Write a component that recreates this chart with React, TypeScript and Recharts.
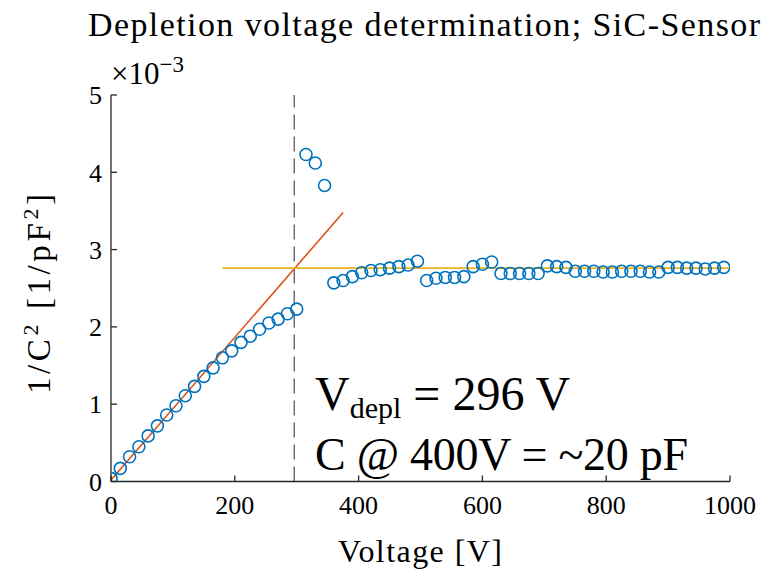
import React from 'react';
import {
  ComposedChart,
  Scatter,
  XAxis,
  YAxis,
  ReferenceLine,
  Customized,
} from 'recharts';

// Bias voltage steps [V]
const voltage = [
  0, 15, 30, 45, 60, 75, 90, 105, 120, 135, 150, 165, 180, 195, 210, 225, 240,
  255, 270, 285, 300, 315, 330, 345, 360, 375, 390, 405, 420, 435, 450, 465,
  480, 495, 510, 525, 540, 555, 570, 585, 600, 615, 630, 645, 660, 675, 690,
  705, 720, 735, 750, 765, 780, 795, 810, 825, 840, 855, 870, 885, 900, 915,
  930, 945, 960, 975, 990,
];

// Measured 1/C^2 in units of 1e-3 pF^-2
const invC2 = [
  0.04, 0.17, 0.32, 0.45, 0.59, 0.72, 0.86, 0.98, 1.11, 1.23, 1.36, 1.47, 1.6,
  1.69, 1.8, 1.88, 1.97, 2.05, 2.1, 2.17, 2.23, 4.23, 4.12, 3.83, 2.57, 2.6,
  2.65, 2.7, 2.73, 2.74, 2.76, 2.78, 2.8, 2.85, 2.6, 2.63, 2.64, 2.64, 2.65,
  2.78, 2.81, 2.84, 2.69, 2.69, 2.69, 2.69, 2.69, 2.79, 2.78, 2.77, 2.72, 2.72,
  2.72, 2.71, 2.71, 2.72, 2.72, 2.72, 2.71, 2.71, 2.77, 2.77, 2.76, 2.76, 2.75,
  2.76, 2.77,
];

const xTicks = [0, 200, 400, 600, 800, 1000];
const yTicks = [0, 1, 2, 3, 4, 5];

// Fitted depletion voltage [V] and capacitance at 400 V [pF]
const depletionVoltage = 296;
const capacitanceAt400 = 20;

// Linear rise fit and plateau fit (end points)
const riseFit = [
  { x: 0, y: 0.02 },
  { x: 375, y: 3.48 },
];
const plateauFit = [
  { x: 180, y: 2.76 },
  { x: 1000, y: 2.76 },
];

const points = voltage.map((v, i) => ({ v, c: invC2[i] }));

const SERIF =
  "'Liberation Serif', 'Times New Roman', Times, 'DejaVu Serif', 'Noto Serif', serif";
const AXIS = '#262626';

const Ring = (props: any) => {
  const { cx, cy } = props;
  if (cx == null || cy == null) return null;
  return (
    <circle cx={cx} cy={cy} r={6} fill="none" stroke="#0072BD" strokeWidth={1.6} />
  );
};

const serifStyle = { fontFamily: SERIF };

const Texts = () => (
  <g fill="#000">
    <text
      x={88}
      y={36}
      fontSize={34}
      textLength={672}
      lengthAdjust="spacing"
      style={serifStyle}
    >
      Depletion voltage determination; SiC-Sensor
    </text>
    <text x={111} y={84} fontSize={31} style={serifStyle}>
      ×10
      <tspan dy={-12} fontSize={23}>
        −3
      </tspan>
    </text>
    <text
      x={338}
      y={562}
      fontSize={32}
      textLength={164}
      lengthAdjust="spacing"
      style={serifStyle}
    >
      Voltage [V]
    </text>
    <text
      x={0}
      y={0}
      fontSize={33}
      textLength={200}
      lengthAdjust="spacing"
      transform="translate(50 394) rotate(-90)"
      style={serifStyle}
    >
      1/C
      <tspan dy={-12} fontSize={22}>
        2
      </tspan>
      <tspan dy={12}> [1/pF</tspan>
      <tspan dy={-12} fontSize={22}>
        2
      </tspan>
      <tspan dy={12}>]</tspan>
    </text>
    <text x={315} y={410} fontSize={48} style={serifStyle}>
      V
      <tspan dy={8} fontSize={30}>
        depl
      </tspan>
      <tspan dy={-8}> = {depletionVoltage} V</tspan>
    </text>
    <text
      x={315}
      y={470}
      fontSize={46}
      textLength={373}
      lengthAdjust="spacing"
      style={serifStyle}
    >
      C @ 400V = ~{capacitanceAt400} pF
    </text>
  </g>
);

const tickStyle = { fill: '#000', fontSize: 26, style: serifStyle };

export default function App() {
  return (
    <div style={{ position: 'absolute', left: 0, top: 0, background: '#fff' }}>
      <ComposedChart
        width={779}
        height={579}
        data={points}
        margin={{ top: 95, right: 49, bottom: 67.5, left: 51 }}
        style={serifStyle}
      >
        <XAxis
          xAxisId="bottom"
          dataKey="v"
          type="number"
          domain={[0, 1000]}
          ticks={xTicks}
          height={30}
          tickSize={-6}
          tickMargin={20}
          axisLine={{ stroke: AXIS, strokeWidth: 1.3 }}
          tickLine={{ stroke: AXIS, strokeWidth: 1.3 }}
          tick={tickStyle}
          allowDataOverflow
        />
        <XAxis
          xAxisId="top"
          orientation="top"
          dataKey="v"
          type="number"
          domain={[0, 1000]}
          ticks={xTicks}
          height={0}
          tickSize={-6}
          axisLine={{ stroke: AXIS, strokeWidth: 1.3 }}
          tickLine={{ stroke: AXIS, strokeWidth: 1.3 }}
          tick={() => <g />}
        />
        <YAxis
          yAxisId="left"
          type="number"
          domain={[0, 5]}
          ticks={yTicks}
          width={60}
          tickSize={-6}
          tickMargin={15}
          axisLine={{ stroke: AXIS, strokeWidth: 1.3 }}
          tickLine={{ stroke: AXIS, strokeWidth: 1.3 }}
          tick={tickStyle}
          allowDataOverflow
        />
        <YAxis
          yAxisId="right"
          orientation="right"
          type="number"
          domain={[0, 5]}
          ticks={yTicks}
          width={0}
          tickSize={-6}
          axisLine={{ stroke: AXIS, strokeWidth: 1.3 }}
          tickLine={{ stroke: AXIS, strokeWidth: 1.3 }}
          tick={() => <g />}
        />
        <Scatter
          xAxisId="bottom"
          yAxisId="left"
          dataKey="c"
          shape={<Ring />}
          isAnimationActive={false}
        />
        <ReferenceLine
          xAxisId="bottom"
          yAxisId="left"
          x={depletionVoltage}
          stroke="#4d4d4d"
          strokeWidth={1.2}
          strokeDasharray="15 7"
        />
        <ReferenceLine
          xAxisId="bottom"
          yAxisId="left"
          segment={riseFit}
          stroke="#D95319"
          strokeWidth={1.6}
        />
        <ReferenceLine
          xAxisId="bottom"
          yAxisId="left"
          segment={plateauFit}
          stroke="#EDB120"
          strokeWidth={1.6}
        />
        <Customized component={Texts} />
      </ComposedChart>
    </div>
  );
}
